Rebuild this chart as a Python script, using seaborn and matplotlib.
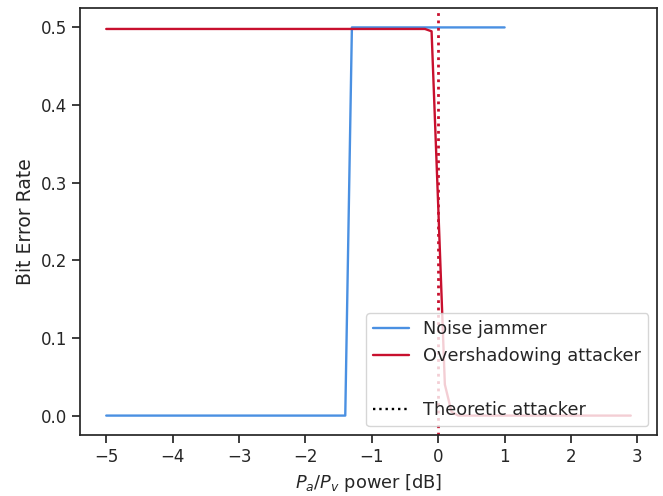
import numpy as np
import pandas as pd
import seaborn as sns
import matplotlib.pyplot as plt
from matplotlib.lines import Line2D

sns.set_theme(style='ticks', context='notebook')

# Noise jammer: -5 .. 1 dB in 0.1 dB steps
jam_x = np.round(np.arange(-5, 1.001, 0.1), 2)
jam_ber = [0.0] * 37 + [0.5] * 24

# Overshadowing attacker: -5 .. 2.9 dB in 0.1 dB steps
atk_x = np.round(np.arange(-5, 2.901, 0.1), 2)
atk_ber = [0.498] * 49 + [0.495, 0.27, 0.04, 0.005] + [0.0] * 27

theory_x = 0.0

jam_color = '#4a90e2'
atk_color = '#c8102e'

df_jam = pd.DataFrame({'x': jam_x, 'ber': jam_ber})
df_atk = pd.DataFrame({'x': atk_x, 'ber': atk_ber})

fig, ax = plt.subplots(figsize=(6.63, 4.96), dpi=100)
sns.lineplot(data=df_jam, x='x', y='ber', color=jam_color, ax=ax, linewidth=1.7)
sns.lineplot(data=df_atk, x='x', y='ber', color=atk_color, ax=ax, linewidth=1.7)
ax.axvline(theory_x, color=atk_color, linestyle=':', linewidth=2)

handles = [
    Line2D([], [], color=jam_color, linewidth=1.7),
    Line2D([], [], color=atk_color, linewidth=1.7),
    Line2D([], [], color='none'),
    Line2D([], [], color='black', linestyle=':', linewidth=1.7),
]
labels = ['Noise jammer', 'Overshadowing attacker', '', 'Theoretic attacker']
ax.legend(handles, labels, loc='lower right', fontsize=12.8)

ax.tick_params(labelsize=12)
ax.set_xlabel('$P_a/P_v$ power [dB]', fontsize=12.8)
ax.set_ylabel('Bit Error Rate', fontsize=13.5)
fig.subplots_adjust(left=80 / 663, right=657 / 663, top=1 - 8 / 496, bottom=1 - 435 / 496)
plt.savefig('out.png', dpi=100)
